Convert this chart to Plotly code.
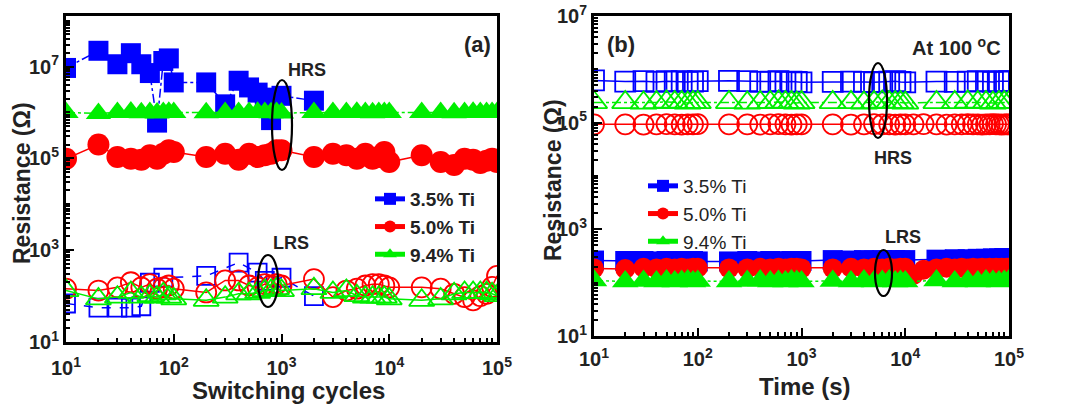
import plotly.graph_objects as go

# ---------------- data ----------------
# panel (a): switching cycles
cyc_full = [10, 20, 30, 40, 50, 60, 70, 80, 90, 100,
            200, 300, 400, 500, 600, 700, 800, 900, 1000,
            2000, 3000, 4000, 5000, 6000, 7000, 8000, 9000, 10000,
            20000, 30000, 40000, 50000, 60000, 70000, 80000, 90000, 100000]

cyc_b35_hrs = [10, 20, 30, 40, 50, 60, 70, 80, 90, 100, 200, 300, 400, 500, 600, 700, 800, 1000, 2000]
r_b35_hrs = [9.3e6, 2.2e7, 1.12e7, 1.95e7, 1.12e7, 7.2e6, 6.0e5, 1.32e7, 1.5e7, 4.5e6,
             4.5e6, 1.5e6, 4.9e6, 3.5e6, 2.7e6, 2.1e6, 6.8e5, 2.3e6, 1.8e6]

r_r50_hrs = [9.8e4, 2.0e5, 1.07e5, 9.8e4, 9.3e4, 1.17e5, 9.8e4, 1.26e5, 1.5e5, 1.38e5,
             1.07e5, 1.26e5, 9.3e4, 1.26e5, 1.07e5, 1.17e5, 1.26e5, 1.5e5, 1.5e5,
             1.07e5, 1.26e5, 1.17e5, 9.8e4, 1.26e5, 9.8e4, 1.07e5, 1.38e5, 8.3e4,
             1.17e5, 8.3e4, 7.2e4, 9.8e4, 9.3e4, 7.9e4, 8.9e4, 9.8e4, 8.3e4]

r_g94_hrs = [1.0e6, 9.5e5, 1.0e6, 1.02e6, 9.8e5, 1.0e6, 9.7e5, 1.0e6, 1.01e6, 1.0e6,
             9.8e5, 1.0e6, 9.9e5, 1.0e6, 1.01e6, 1.0e6, 9.8e5, 1.0e6, 9.7e5,
             1.0e6, 9.9e5, 1.0e6, 1.01e6, 1.0e6, 9.8e5, 1.0e6, 1.0e6, 9.9e5,
             1.0e6, 1.0e6, 9.8e5, 1.0e6, 1.01e6, 1.0e6, 9.9e5, 1.0e6, 1.0e6]

cyc_b35_lrs = [10, 20, 30, 40, 50, 60, 80, 200, 400, 600, 700, 1000, 2000]
r_b35_lrs = [69, 56, 56, 56, 60, 195, 251, 275, 537, 324, 214, 251, 100]

r_r50_lrs = [145, 132, 155, 200, 155, 182, 145, 155, 170, 145,
             120, 219, 219, 170, 155, 182, 170, 182, 170,
             234, 95, 132, 145, 170, 182, 182, 170, 155,
             155, 145, 112, 95, 81, 100, 112, 158, 275]

r_g94_lrs = [132, 87, 95, 120, 95, 102, 95, 112, 95, 87,
             81, 95, 112, 112, 120, 132, 132, 145, 132,
             145, 120, 132, 102, 95, 95, 95, 95, 87,
             81, 87, 112, 120, 120, 120, 120, 112, 102]

# panel (b): retention at 100 C
t_full = cyc_full
t_red = [10, 20, 30, 40, 50, 60, 70, 80, 90, 100,
         200, 300, 400, 500, 600, 700, 800, 900, 1000,
         2000, 3000, 4000, 5000, 6000, 7000, 8000, 9000, 10000,
         12000, 15000, 20000, 25000, 30000, 35000, 40000, 45000, 50000,
         55000, 60000, 65000, 70000, 75000, 80000, 85000, 90000, 95000, 100000]

rb_b35_hrs = [6.2e5, 5.9e5, 6.0e5, 5.8e5, 6.0e5, 5.9e5, 6.0e5, 5.8e5, 5.9e5, 6.0e5,
              6.1e5, 6.0e5, 5.8e5, 5.9e5, 6.0e5, 5.8e5, 5.9e5, 5.8e5, 5.7e5,
              5.8e5, 5.9e5, 5.8e5, 5.7e5, 5.8e5, 5.9e5, 6.0e5, 5.8e5, 5.7e5,
              5.9e5, 5.8e5, 5.9e5, 6.0e5, 5.9e5, 5.8e5, 6.0e5, 5.9e5, 6.0e5]
rb_g94_hrs = [2.4e5, 2.4e5, 2.35e5, 2.4e5, 2.45e5, 2.4e5, 2.4e5, 2.35e5, 2.4e5, 2.4e5,
              2.4e5, 2.35e5, 2.4e5, 2.4e5, 2.45e5, 2.4e5, 2.4e5, 2.35e5, 2.4e5,
              2.4e5, 2.4e5, 2.35e5, 2.4e5, 2.45e5, 2.4e5, 2.4e5, 2.4e5, 2.35e5,
              2.4e5, 2.4e5, 2.45e5, 2.4e5, 2.4e5, 2.35e5, 2.4e5, 2.4e5, 2.4e5]
rb_r50_hrs = [9.3e4, 9.3e4, 9.2e4, 9.3e4, 9.4e4, 9.3e4, 9.2e4, 9.3e4, 9.3e4, 9.4e4,
              9.3e4, 9.3e4, 9.2e4, 9.3e4, 9.4e4, 9.3e4, 9.2e4, 9.3e4, 9.3e4,
              9.3e4, 9.2e4, 9.3e4, 9.4e4, 9.3e4, 9.3e4, 9.2e4, 9.3e4, 9.3e4,
              9.3e4, 9.4e4, 9.3e4, 9.2e4, 9.3e4, 9.3e4, 9.4e4, 9.3e4, 9.3e4,
              9.2e4, 9.3e4, 9.3e4, 9.4e4, 9.3e4, 9.3e4, 9.2e4, 9.3e4, 9.3e4, 9.3e4]

rb_b35_lrs = [260, 255, 255, 250, 255, 250, 255, 250, 255, 250,
              250, 255, 250, 255, 250, 250, 255, 250, 255,
              265, 260, 265, 260, 265, 260, 265, 260, 265,
              270, 275, 275, 280, 280, 285, 285, 290, 290]
rb_r50_lrs = [185, 180, 190, 185, 190, 185, 190, 185, 190, 190,
              185, 185, 190, 185, 190, 185, 190, 190, 185,
              185, 190, 185, 190, 185, 190, 185, 190, 190,
              140, 175, 185, 190, 185, 190, 185, 190, 185,
              190, 185, 190, 185, 190, 185, 190, 185, 190, 190]
rb_g94_lrs = [110, 105, 108, 105, 110, 105, 108, 110, 105, 108,
              105, 108, 110, 105, 108, 105, 110, 108, 105,
              108, 105, 110, 105, 108, 110, 105, 108, 105,
              110, 105, 108, 105, 110, 108, 105, 108, 110]

series_names = ["3.5% Ti", "5.0% Ti", "9.4% Ti"]
BLUE, RED, GREEN = "#0000ff", "#ff0000", "#00ee00"

# ---------------- figure ----------------
W, H = 1086, 408
FONT = "Arial, Liberation Sans, sans-serif"

def PX(x):
    return x / W

def PY(y):
    return 1 - y / H

fig = go.Figure()

def add(x, y, color, symbol, size, dash, xa, ya, lw=1.5, mlw=0):
    fig.add_trace(go.Scatter(
        x=x, y=y, mode="lines+markers", xaxis=xa, yaxis=ya, showlegend=False,
        line=dict(color=color, width=lw, dash=dash),
        marker=dict(symbol=symbol, size=size, color=color,
                    line=dict(color=color, width=mlw)),
    ))

# panel a HRS (filled)
add(cyc_b35_hrs, r_b35_hrs, BLUE, "square", 20, "dashdot", "x", "y")
add(cyc_full, r_r50_hrs, RED, "circle", 22, "solid", "x", "y")
add(cyc_full, r_g94_hrs, GREEN, "triangle-up", 22, "dashdot", "x", "y")
# panel a LRS (open)
add(cyc_b35_lrs, r_b35_lrs, BLUE, "square-open", 18, "dash", "x", "y", mlw=1.8)
add(cyc_full, r_r50_lrs, RED, "circle-open", 20, "solid", "x", "y", mlw=1.8)
add(cyc_full, r_g94_lrs, GREEN, "triangle-up-open", 22, "solid", "x", "y", mlw=1.8)

# panel b HRS (open)
add(t_full, rb_b35_hrs, BLUE, "square-open", 20, "solid", "x2", "y2", mlw=1.8)
add(t_full, rb_g94_hrs, GREEN, "triangle-up-open", 23, "dashdot", "x2", "y2", mlw=1.8)
add(t_red, rb_r50_hrs, RED, "circle-open", 20, "solid", "x2", "y2", mlw=1.8)
# panel b LRS (filled)
add(t_full, rb_b35_lrs, BLUE, "square", 20, "solid", "x2", "y2")
add(t_red, rb_r50_lrs, RED, "circle", 20, "solid", "x2", "y2")
add(t_full, rb_g94_lrs, GREEN, "triangle-up", 23, "dot", "x2", "y2")

# legend entries (no marks on the plot)
syms = ["square", "circle", "triangle-up"]
cols = [BLUE, RED, GREEN]
for lg, xa, ya in (("legend", "x", "y"), ("legend2", "x2", "y2")):
    for nm, s, c in zip(series_names, syms, cols):
        fig.add_trace(go.Scatter(
            x=[None], y=[None], mode="lines+markers", name=nm, legend=lg,
            xaxis=xa, yaxis=ya, showlegend=True,
            line=dict(color=c, width=2.5), marker=dict(symbol=s, size=12, color=c)))

def sup(n):
    return f"10<sup>{n}</sup>"

minor_x = [k * 10 ** n for n in range(1, 5) for k in range(2, 10)]
minor_y = [k * 10 ** n for n in range(1, 8) for k in range(2, 10)]

ax_common = dict(type="log", showgrid=False, zeroline=False, showline=True,
                 linecolor="black", linewidth=3, mirror=True, automargin=False,
                 ticks="inside", ticklen=8, tickwidth=2, tickcolor="black",
                 tickfont=dict(family=FONT, size=20, color="#222", weight="bold"))

fig.update_layout(
    width=W, height=H, margin=dict(l=0, r=0, t=0, b=0, autoexpand=False),
    paper_bgcolor="white", plot_bgcolor="white",
    xaxis=dict(domain=[PX(66), PX(497)], range=[1, 5], anchor="y", ticklabelstandoff=6,
               tickvals=[10, 100, 1e3, 1e4, 1e5], ticktext=[sup(i) for i in range(1, 6)],
               minor=dict(ticks="inside", ticklen=4, tickwidth=2, tickcolor="black",
                          tickmode="array", tickvals=minor_x), **ax_common),
    yaxis=dict(domain=[PY(342), PY(16)], range=[1, 8.1], anchor="x",
               tickvals=[10, 1e3, 1e5, 1e7], ticktext=[sup(i) for i in (1, 3, 5, 7)],
               minor=dict(ticks="inside", ticklen=4, tickwidth=2, tickcolor="black",
                          tickmode="array", tickvals=[v for v in minor_y] + [1e2, 1e4, 1e6, 1e8]),
               **ax_common),
    xaxis2=dict(domain=[PX(594), PX(1009)], range=[1, 5], anchor="y2", ticklabelstandoff=3,
                tickvals=[10, 100, 1e3, 1e4, 1e5], ticktext=[sup(i) for i in range(1, 6)],
                minor=dict(ticks="inside", ticklen=4, tickwidth=2, tickcolor="black",
                           tickmode="array", tickvals=minor_x), **ax_common),
    yaxis2=dict(domain=[PY(336), PY(16)], range=[1, 7], anchor="x2",
                tickvals=[10, 1e3, 1e5, 1e7], ticktext=[sup(i) for i in (1, 3, 5, 7)],
                minor=dict(ticks="inside", ticklen=4, tickwidth=2, tickcolor="black",
                           tickmode="array", tickvals=[v for v in minor_y if v < 1e7] + [1e2, 1e4, 1e6]),
                **ax_common),
    legend=dict(x=PX(370), y=PY(180), xanchor="left", yanchor="top",
                bgcolor="rgba(0,0,0,0)", itemsizing="constant", tracegroupgap=0,
                font=dict(family=FONT, size=19, color="#222", weight="bold")),
    legend2=dict(x=PX(643), y=PY(167), xanchor="left", yanchor="top",
                 bgcolor="rgba(0,0,0,0)", itemsizing="constant", tracegroupgap=0,
                 font=dict(family=FONT, size=19, color="#222")),
)

def txt(x, y, s, size=18, bold=True, angle=0, xanchor="center"):
    fig.add_annotation(x=PX(x), y=PY(y), xref="paper", yref="paper", text=s,
                       showarrow=False, xanchor=xanchor, yanchor="middle", textangle=angle,
                       font=dict(family=FONT, size=size, color="#222",
                                 weight="bold" if bold else "normal"))

txt(477, 44, "(a)", 22)
txt(307, 70, "HRS", 18)
txt(291, 243, "LRS", 18)
txt(621, 44, "(b)", 22)
txt(956, 46, "At 100 <sup>o</sup>C", 20)
txt(893, 158, "HRS", 18)
txt(903, 237, "LRS", 18)
txt(22, 183, "Resistance (Ω)", 23, angle=-90)
txt(553, 180, "Resistance (Ω)", 23, angle=-90)
txt(288, 390, "Switching cycles", 24)
txt(805, 386, "Time (s)", 24)

def ell(x0, x1, y0, y1):
    fig.add_shape(type="circle", xref="paper", yref="paper",
                  x0=PX(x0), x1=PX(x1), y0=PY(y1), y1=PY(y0),
                  line=dict(color="black", width=2.2))

ell(272, 292, 80, 170)
ell(258, 278, 255, 307)
ell(869, 887, 63, 138)
ell(875, 892, 250, 296)

fig.write_html("out.html")
